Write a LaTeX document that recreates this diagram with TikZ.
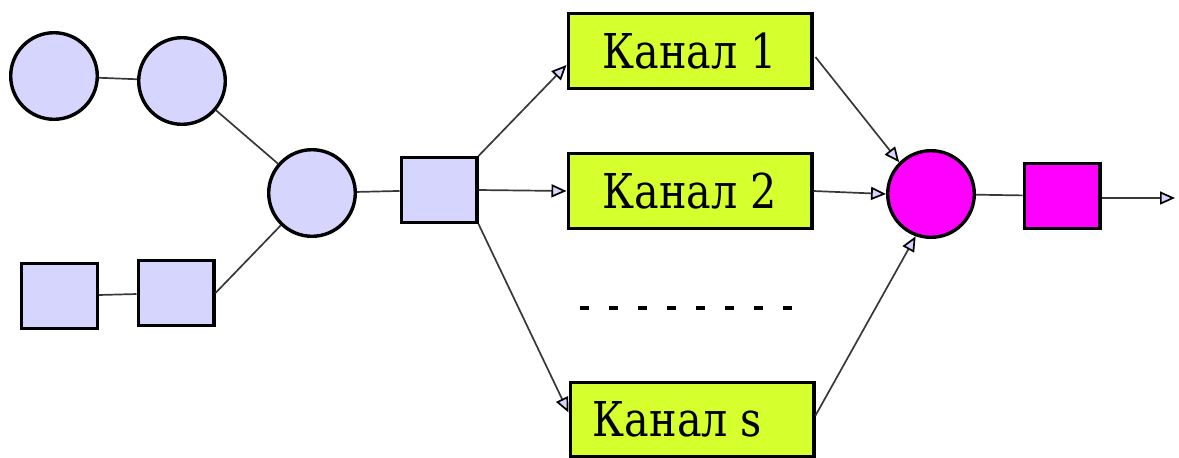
\documentclass[tikz,border=0pt]{standalone}
\usepackage{fontspec}
\setmainfont{Liberation Serif}
\newfontfamily\chanfont[FakeStretch=0.86]{DejaVu Serif}
\usetikzlibrary{arrows.meta,calc}
\definecolor{cLav} {HTML}{D5D5FD}
\definecolor{cLime}{HTML}{D6FF2E}
\definecolor{cMag} {HTML}{FF00FF}
\definecolor{cLine}{HTML}{383838}
\tikzset{
  crc/.style ={circle,draw=black,line width=1.7pt,fill=cLav,
               minimum size=43.3pt,inner sep=0pt},
  sqr/.style ={rectangle,draw=black,line width=1.7pt,fill=cLav,
               minimum width=37.8pt,minimum height=32.3pt,inner sep=0pt},
  chan/.style={rectangle,draw=black,line width=1.7pt,fill=cLime,
               minimum width=121.8pt,minimum height=37.3pt,inner sep=0pt,
               font=\chanfont\fontsize{24}{28}\selectfont},
  lnk/.style ={draw=cLine,line width=0.85pt},
  arr/.style ={lnk,-{Triangle[length=7.5pt,width=6.5pt,fill=cLav,color=black]}},
}

\begin{document}
\begin{tikzpicture}[x=0.5pt,y=0.5pt]
\useasboundingbox (0,0) rectangle (1179,-457);

% ===== input side =======================================================
\node[crc] (c1) at (54,-76)    {};
\node[crc] (c2) at (182,-81)   {};
\node[crc] (c3) at (312,-193)  {};
\node[sqr] (s1) at (59.5,-296) {};
\node[sqr] (s2) at (176,-293)  {};
\node[sqr] (m)  at (439,-190)  {};

\draw[lnk] (c1) -- (c2);
\draw[lnk] (c2) -- (c3);
\draw[lnk] (s1) -- (s2);
\draw[lnk] (s2.east) -- (c3);
\draw[lnk] (c3) -- (m);

% ===== channels =========================================================
\node[chan] (k1) at (690,-51)    {Канал 1};
\node[chan] (k2) at (690,-191)   {Канал 2};
\node[chan] (ks) at (692,-419.5) {Канал s\hspace*{0.6em}};

\draw[arr] (m.north east) -- ($(k1.west)+(0,-14)$);
\draw[arr] (m.east) -- (k2.west);
\draw[arr] (m.south east) -- ($(ks.west)+(0,7)$);

\coordinate (d0) at (580,-308);
\coordinate (d1) at (802,-308);
\draw[line width=2pt,dash pattern=on 4.5pt off 10pt] (d0) -- (d1);

% ===== output side ======================================================
\node[crc,fill=cMag] (mc) at (931,-194)  {};
\node[sqr,fill=cMag] (ms) at (1062,-196) {};
\coordinate (out) at (1175,-198);

\draw[arr] ($(k1.east)+(2,-6)$) -- (mc.north west);
\draw[arr] (k2.east) -- (mc.west);
\draw[arr] ($(ks.east)+(0,4)$) -- (mc.250);
\draw[lnk] (mc) -- (ms);
\draw[arr] (ms.east|-out) -- (out);
\end{tikzpicture}
\end{document}
